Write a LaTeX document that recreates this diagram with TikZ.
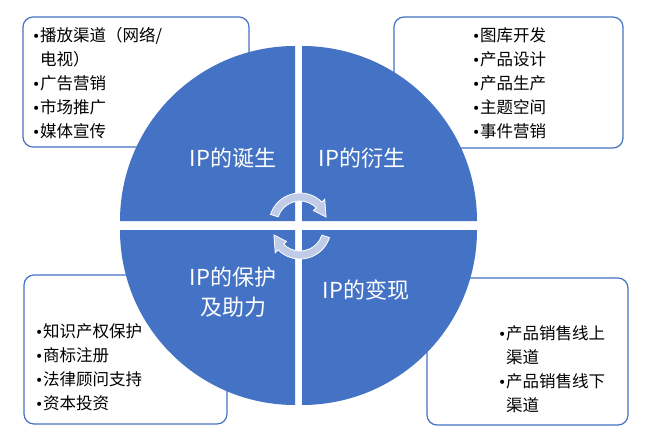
\documentclass[tikz,border=0pt]{standalone}
\usepackage{fontspec}
\setmainfont{Noto Sans CJK SC}
\newfontfamily\symfont{DejaVu Sans}
\usepackage{tikz}
\usetikzlibrary{calc}
\definecolor{OfficeBlue}{HTML}{4472C4}
\definecolor{PaleArrow}{HTML}{C0CBE8}
\newcommand{\bul}{\makebox[8pt][l]{\symfont\fontsize{14}{14}\selectfont •}}

\begin{document}
\begin{tikzpicture}[x=1pt, y=-1pt, font=\fontsize{16.5}{24}\selectfont]
\tikzset{infobox/.style={draw=OfficeBlue, line width=1.2pt, rounded corners=10pt, fill=white, inner sep=0pt}, itemlist/.style={anchor=north west, align=left, inner sep=0pt, text=black}, quarter/.style={fill=OfficeBlue}, title/.style={text=white, align=center, inner sep=0pt, font=\fontsize{22}{30}\selectfont}, turn/.style={fill=PaleArrow, draw=white, line width=.8pt}}
\useasboundingbox[fill=white] (0,0) rectangle (650,441);
% boxes behind the wheel
\foreach \name/\x/\y/\w/\h in {birthbox/136/82/226/130, derivebox/508.5/82.5/229/131, protectbox/125.5/349.5/203/149, cashbox/527.5/351.5/201/147} {
  \node[infobox, minimum width=\w pt, minimum height=\h pt] (\name) at (\x,\y) {};
}
% four quarters
\foreach \cx/\cy/\a in {295/221/180, 302/221/270, 302/230/0, 295/230/90} {
  \fill[quarter] (\cx,\cy) -- ++(\a:175) arc[start angle=\a, delta angle=90, radius=175] -- cycle;
}
% turning arrows
\coordinate (hubtop) at (300,224);
\coordinate (hubbot) at (300,228);
\filldraw[turn] ($(hubtop)+(-162:31)$) arc[start angle=-162, end angle=-45, radius=31] -- ($(hubtop)+(-45:35)$) -- ($(hubtop)+(-15:27)$) -- ($(hubtop)+(-45:19)$) -- ($(hubtop)+(-45:23)$) arc[start angle=-45, end angle=-162, radius=23] -- cycle;
\filldraw[turn] ($(hubbot)+(18:31)$) arc[start angle=18, end angle=135, radius=31] -- ($(hubbot)+(135:35)$) -- ($(hubbot)+(165:27)$) -- ($(hubbot)+(135:19)$) -- ($(hubbot)+(135:23)$) arc[start angle=135, end angle=18, radius=23] -- cycle;
% titles
\node[title] (birth) at (233,158) {IP的诞生};
\node[title] (derive) at (362,158) {IP的衍生};
\node[title] (protect) at (233,292) {IP的保护\\及助力};
\node[title] (cash) at (366,290) {IP的变现};
% item lists
\node[itemlist] (birthlist) at (32,27) {\bul 播放渠道（网络/\\\hspace*{8pt}电视）\\\bul 广告营销\\\bul 市场推广\\\bul 媒体宣传};
\node[itemlist] (derivelist) at (472,27) {\bul 图库开发\\\bul 产品设计\\\bul 产品生产\\\bul 主题空间\\\bul 事件营销};
\node[itemlist] (protectlist) at (35,323) {\bul 知识产权保护\\\bul 商标注册\\\bul 法律顾问支持\\\bul 资本投资};
\node[itemlist] (cashlist) at (498,325) {\bul 产品销售线上\\\hspace*{8pt}渠道\\\bul 产品销售线下\\\hspace*{8pt}渠道};
\end{tikzpicture}
\end{document}
